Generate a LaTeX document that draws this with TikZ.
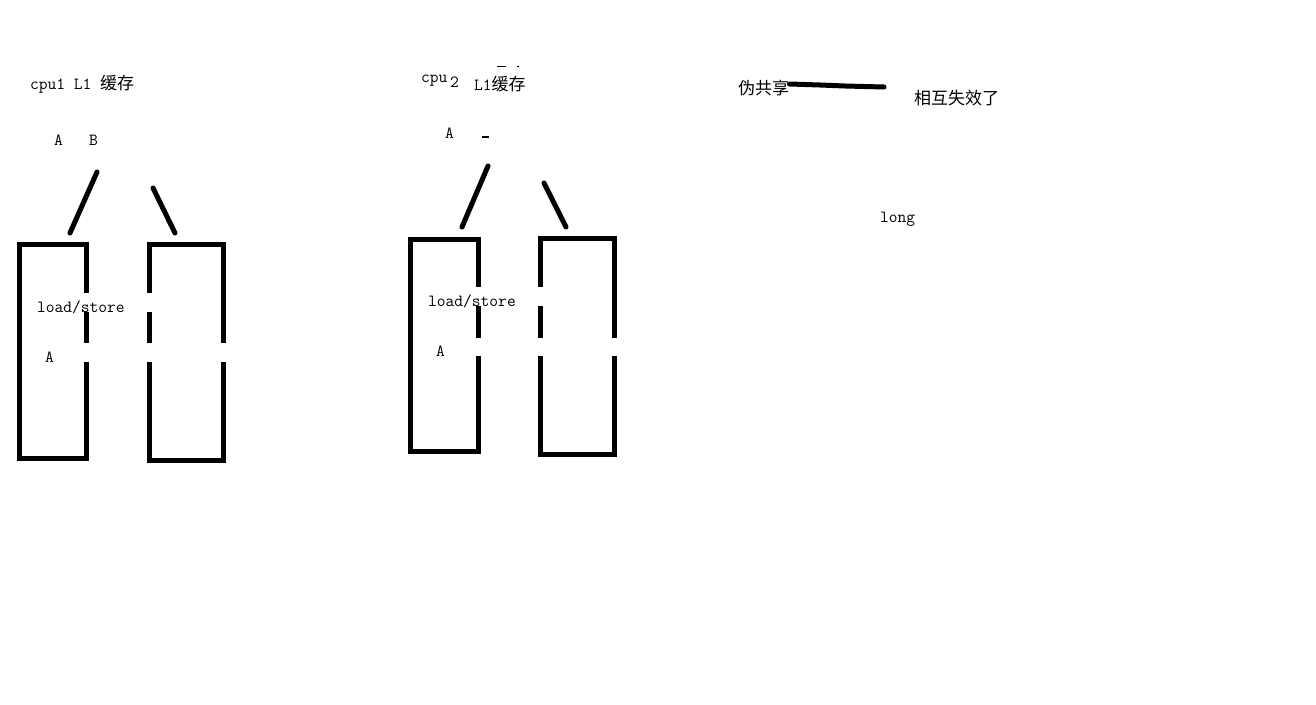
\documentclass[tikz,border=0pt]{standalone}
\usepackage{fontspec}
\newfontfamily\cjk{Noto Sans CJK SC}
\setmonofont{Latin Modern Mono}
\tikzset{
  cell/.style={line width=5pt, draw=black},
  stroke/.style={line width=5pt, line cap=round, draw=black},
  lbl/.style={inner sep=0pt, anchor=base west, font=\fontsize{17}{18}\ttfamily},
  clbl/.style={inner sep=0pt, anchor=base west, font=\fontsize{17}{18}\cjk},
  mask/.style={fill=white, draw=none}
}
\begin{document}
\begin{tikzpicture}[x=1pt,y=-1pt]
\useasboundingbox (0,0) rectangle (1316,704);
\fill[white] (0,0) rectangle (1316,704);

% cpu1 boxes
\draw[cell] (19.5,244.5) rectangle (86.5,458.5);
\draw[cell] (149.5,244.5) rectangle (223,460);
\fill[mask] (84,293) rectangle (153,312);
\fill[mask] (84,343) rectangle (226,362);

% cpu2 boxes
\draw[cell] (410.5,239.5) rectangle (478.5,451.5);
\draw[cell] (540.5,238.5) rectangle (614.5,454.5);
\fill[mask] (476,287) rectangle (544,306);
\fill[mask] (476,338) rectangle (618,356);

% slanted strokes
\coordinate (s1a) at (97,172); \coordinate (s1b) at (70,233);
\coordinate (s2a) at (153,188); \coordinate (s2b) at (175,233);
\coordinate (s3a) at (488,166); \coordinate (s3b) at (462,227);
\coordinate (s4a) at (544,183); \coordinate (s4b) at (566,227);
\draw[stroke] (s1a) -- (s1b);
\draw[stroke] (s2a) -- (s2b);
\draw[stroke] (s3a) -- (s3b);
\draw[stroke] (s4a) -- (s4b);

% cpu1 labels
\node[lbl] (c1) at (30,89) {cpu1 L1 {\cjk 缓存}};
\node[lbl] (a1) at (54,145) {A};
\node[lbl] (b1) at (89,145) {B};
\node[lbl] (ls1) at (37,312) {load/store};
\node[lbl] (aa1) at (45,362) {A};

% cpu2 labels
\node[lbl] (c2) at (421,82) {cpu};
\node[lbl] (c2n) at (450,87) {2};
\node[lbl] (l2) at (474,90) {L1{\cjk 缓存}};
\node[lbl] (a2) at (445,138) {A};
\node[lbl] (ls2) at (428,306) {load/store};
\node[lbl] (aa2) at (436,356) {A};
% glyph fragments
\draw[line width=1.2pt] (497,66.5) -- (506,66.5);
\fill (518,66.5) circle (1pt);
\draw[line width=1.5pt] (482,137) -- (489,137);

% false sharing
\node[clbl] (fs) at (738,94) {伪共享};
\coordinate (fse) at (884,87);
\draw[line width=5pt, line cap=round, line join=round] (fs.east |- 0,84) -- (820,85) -- (845,86) -- (fse);
\node[clbl] (inv) at (914,104) {相互失效了};
\node[lbl] (lg) at (880,222) {long};
\end{tikzpicture}
\end{document}
